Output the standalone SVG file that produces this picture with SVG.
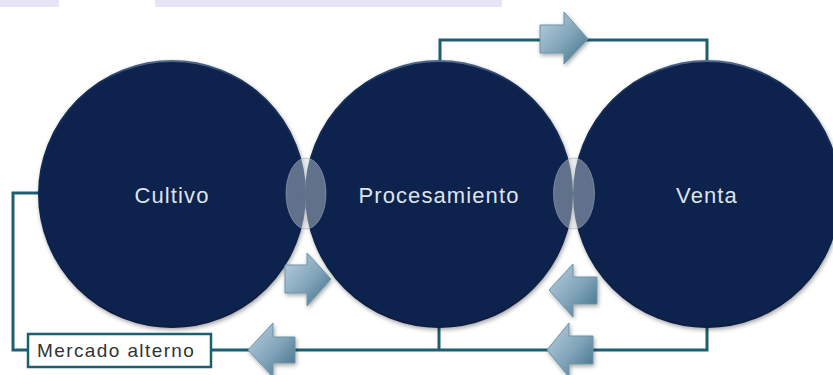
<svg xmlns="http://www.w3.org/2000/svg" width="833" height="375" viewBox="0 0 833 375">
<defs>
<linearGradient id="arrowGrad" x1="0" y1="0" x2="1" y2="1">
<stop offset="0" stop-color="#bcd2e1"/>
<stop offset="0.55" stop-color="#7fa3b8"/>
<stop offset="1" stop-color="#3b6d85"/>
</linearGradient>
<linearGradient id="rimGrad" x1="0" y1="0" x2="0" y2="1">
<stop offset="0" stop-color="#50698c"/>
<stop offset="0.08" stop-color="#152f58"/>
<stop offset="1" stop-color="#081d40"/>
</linearGradient>
<filter id="shadow" x="-20%" y="-20%" width="140%" height="140%">
<feDropShadow dx="1" dy="2" stdDeviation="2" flood-color="#000" flood-opacity="0.35"/>
</filter>
</defs>
<style>
.circle{fill:#0b234d;stroke:url(#rimGrad);stroke-width:2;filter:url(#shadow)}
.label{font-family:"Liberation Sans","DejaVu Sans",sans-serif;font-size:22px;fill:#dde4ec;text-anchor:middle;letter-spacing:1.1px}
.conn{fill:none;stroke:#1c5f70;stroke-width:3;stroke-linejoin:miter}
.arrow{fill:url(#arrowGrad);stroke:#6a93a8;stroke-width:1;filter:url(#shadow)}
.lens{fill:rgb(208,215,222);fill-opacity:0.43;stroke:#9aaab8;stroke-opacity:0.6;stroke-width:1}
.hl{fill:#e6e4f5}
.box{fill:#ffffff;stroke:#1c5f70;stroke-width:2.5}
.boxlabel{font-family:"Liberation Sans","DejaVu Sans",sans-serif;font-size:19px;fill:#333333;letter-spacing:1.4px}
</style>
<rect width="833" height="375" fill="#ffffff"/>
<rect class="hl" x="0" y="0" width="59" height="7"/>
<rect class="hl" x="155" y="0" width="347" height="7"/>

<g id="connector-lines">
<polyline class="conn" points="440,62 440,40 707,40 707,62"/>
<polyline class="conn" points="39,193 13,193 13,350 28,350"/>
<polyline class="conn" points="211,350 707,350 707,324"/>
<line class="conn" x1="439" y1="324" x2="439" y2="350"/>
</g>

<g id="node-cultivo">
<circle class="circle" cx="172" cy="194" r="133"/>
<text class="label" x="172" y="203">Cultivo</text>
</g>
<g id="node-procesamiento">
<circle class="circle" cx="439" cy="194" r="133"/>
<text class="label" x="439" y="203">Procesamiento</text>
</g>
<g id="node-venta">
<circle class="circle" cx="707" cy="194" r="133"/>
<text class="label" x="707" y="203">Venta</text>
</g>

<g id="lenses">
<ellipse class="lens" cx="306" cy="193.5" rx="20" ry="35.5"/>
<ellipse class="lens" cx="574" cy="193.5" rx="20.5" ry="35.5"/>
</g>

<g id="node-mercado">
<rect class="box" x="28" y="334" width="183" height="33"/>
<text class="boxlabel" x="37" y="357">Mercado alterno</text>
</g>

<g id="connector-arrows">
<polygon class="arrow" points="540,25 564,25 564,12 588,39 564,64 564,53 540,53"/>
<polygon class="arrow" points="285,265 307,265 307,253 331,279 307,306 307,293 285,293"/>
<polygon class="arrow" points="597,277 573,277 573,264 549,290 573,317 573,304 597,304"/>
<polygon class="arrow" points="295,337 273,337 273,323 248,350 273,377 273,363 295,363"/>
<polygon class="arrow" points="593,336 569,336 569,323 547,350 569,377 569,364 593,364"/>
</g>
</svg>
